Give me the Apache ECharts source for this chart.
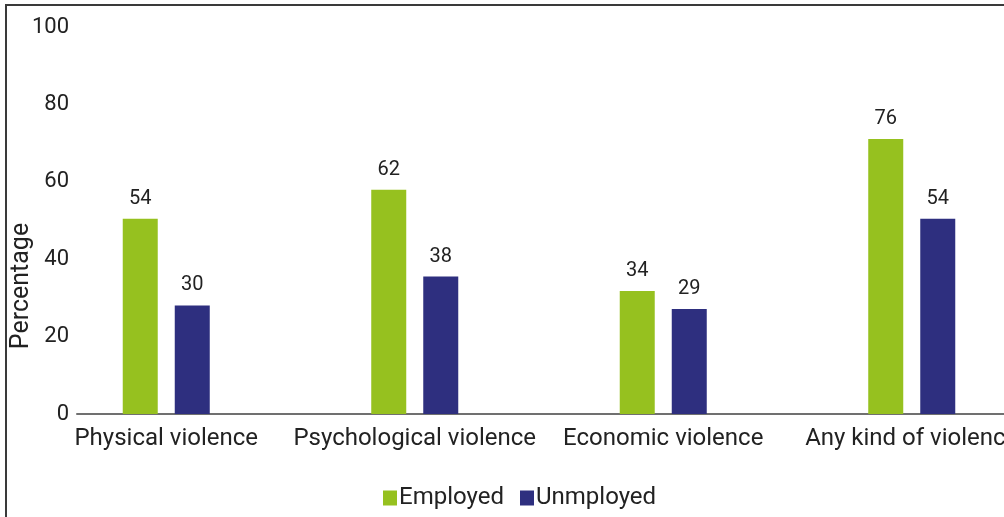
<!DOCTYPE html>
<html>
<head>
<meta charset="utf-8">
<script src="https://cdn.jsdelivr.net/npm/echarts@6/dist/echarts.min.js"></script>
<style>
html,body{margin:0;padding:0;background:#fff;overflow:hidden;}
#chart{width:1050px;height:517px;}
</style>
</head>
<body>
<div id="chart"></div>
<script>
// ---- data ----
const categories = ['Physical violence', 'Psychological violence', 'Economic violence', 'Any kind of violence'];
const employed = [54, 62, 34, 76];
const unemployed = [30, 38, 29, 54];
const seriesNames = ['Employed', 'Unmployed'];
const yTitle = 'Percentage';
const yMin = 0, yMax = 100, yStep = 20;

const chart = echarts.init(document.getElementById('chart'), null, {renderer: 'canvas'});
const font = 'Roboto';
const labelStyle = {show: true, position: 'top', distance: 10, fontSize: 20, fontFamily: font, color: '#222'};

chart.setOption({
  animation: false,
  backgroundColor: '#fff',
  legend: {
    data: seriesNames,
    left: 378, top: 481,
    icon: 'rect', itemWidth: 14, itemHeight: 15, itemGap: 16,
    textStyle: {fontSize: 24, fontFamily: font, color: '#222', padding: [0, 0, 0, -3]}
  },
  grid: [
    {left: 77, right: 0, top: 27, height: 387},
    {left: 42, width: 994, top: 27, height: 387}
  ],
  xAxis: [
    {gridIndex: 0, type: 'value', min: 0, max: 1,
      axisLine: {show: true, lineStyle: {color: '#707070', width: 2}},
      axisTick: {show: false}, axisLabel: {show: false}, splitLine: {show: false}},
    {gridIndex: 1, type: 'category', data: categories,
      axisLine: {show: false}, axisTick: {show: false},
      axisLabel: {interval: 0, fontSize: 24, fontFamily: font, color: '#222', margin: 13}}
  ],
  yAxis: [
    {gridIndex: 0, type: 'value', min: yMin, max: yMax, interval: yStep,
      axisLine: {show: false}, axisTick: {show: false}, splitLine: {show: false},
      axisLabel: {fontSize: 22, fontFamily: font, color: '#222', margin: 8}},
    {gridIndex: 1, type: 'value', min: 0, max: 107, show: false, splitLine: {show: false}}
  ],
  series: [
    {name: seriesNames[0], type: 'bar', xAxisIndex: 1, yAxisIndex: 1, data: employed,
      barWidth: 35, barGap: '48.6%', itemStyle: {color: '#96C11F'}, label: labelStyle},
    {name: seriesNames[1], type: 'bar', xAxisIndex: 1, yAxisIndex: 1, data: unemployed,
      barWidth: 35, barGap: '48.6%', itemStyle: {color: '#2E2F7F'}, label: labelStyle}
  ],
  graphic: [
    {type: 'rect', shape: {x: 6, y: 5, width: 1200, height: 1200}, silent: true,
      style: {fill: 'none', stroke: '#3a3a3a', lineWidth: 2}},
    {type: 'text', x: 22, y: 286, rotation: Math.PI / 2, silent: true,
      style: {text: yTitle, fontSize: 25, fontFamily: font, fill: '#222', align: 'center', verticalAlign: 'middle'}}
  ]
});
</script>
</body>
</html>
